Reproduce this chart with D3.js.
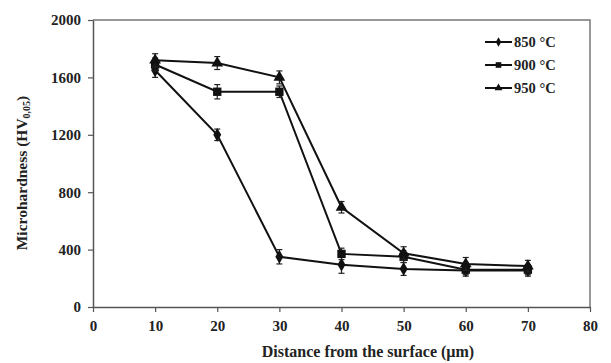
<!DOCTYPE html>
<html>
<head>
<meta charset="utf-8">
<script src="https://cdn.jsdelivr.net/npm/d3@7"></script>
<style>
  html, body { margin: 0; padding: 0; background: #fff; }
  svg { display: block; font-family: "Liberation Serif", "Times New Roman", serif; font-weight: bold; }
</style>
</head>
<body>
<svg id="chart" width="611" height="363"></svg>
<script>
// Depth positions (µm)
const distances = [10, 20, 30, 40, 50, 60, 70];
// Microhardness profiles for each treatment temperature
const hv850 = [1650, 1200, 350, 295, 265, 255, 255];
const hv900 = [1690, 1500, 1500, 370, 350, 260, 260];
const hv950 = [1720, 1700, 1600, 695, 375, 300, 285];
// Standard deviations (error bars)
const err850 = [50, 40, 50, 60, 45, 40, 40];
const err900 = [45, 50, 40, 40, 40, 35, 35];
const err950 = [45, 45, 45, 40, 45, 45, 40];
const seriesNames = ["850 °C", "900 °C", "950 °C"];
const xTicks = [0, 10, 20, 30, 40, 50, 60, 70, 80];
const yTicks = [0, 400, 800, 1200, 1600, 2000];

const series = [
  { name: seriesNames[0], values: hv850, errs: err850, symbol: d3.symbolDiamond, size: 55 },
  { name: seriesNames[1], values: hv900, errs: err900, symbol: d3.symbolSquare, size: 70 },
  { name: seriesNames[2], values: hv950, errs: err950, symbol: d3.symbolTriangle, size: 60 }
];

const svg = d3.select("#chart");
const plotL = 93, plotR = 590, plotT = 20, plotB = 307;
const serif = "'Liberation Serif', 'Times New Roman', serif";

const x = d3.scaleLinear().domain([0, 80]).range([plotL, plotR]);
const y = d3.scaleLinear().domain([0, 2000]).range([plotB, plotT]);

// Plot frame (top and right edges)
svg.append("path")
  .attr("d", `M${plotL},${plotT}H${plotR}V${plotB}`)
  .attr("fill", "none").attr("stroke", "#777").attr("stroke-width", 1.5);

// Axes
const xAxis = svg.append("g").attr("transform", `translate(0,${plotB})`)
  .call(d3.axisBottom(x).tickValues(xTicks).tickFormat(d3.format("d")).tickSize(5).tickSizeOuter(0));
const yAxis = svg.append("g").attr("transform", `translate(${plotL},0)`)
  .call(d3.axisLeft(y).tickValues(yTicks).tickFormat(d3.format("d")).tickSize(5).tickSizeOuter(0));

[xAxis, yAxis].forEach(g => {
  g.attr("font-family", serif).attr("font-size", 15);
  g.select(".domain").attr("stroke", "#555").attr("stroke-width", 1.5);
  g.selectAll(".tick line").attr("stroke", "#555").attr("stroke-width", 1.2);
  g.selectAll(".tick text").attr("font-weight", "bold").attr("fill", "#222");
});
xAxis.selectAll(".tick text").attr("dy", "1.05em");
yAxis.selectAll(".tick text").attr("x", -12);

// Axis titles
svg.append("text")
  .attr("x", 368).attr("y", 357)
  .attr("text-anchor", "middle").attr("font-size", 16).attr("fill", "#222")
  .text("Distance from the surface (µm)");

const yTitle = svg.append("text")
  .attr("transform", `translate(27,173) rotate(-90)`)
  .attr("text-anchor", "middle").attr("font-size", 15.5).attr("fill", "#222");
yTitle.append("tspan").text("Microhardness (HV");
yTitle.append("tspan").attr("font-size", 10).attr("dy", 3).text("0,05");
yTitle.append("tspan").attr("dy", -3).text(")");

const line = d3.line().x((d, i) => x(distances[i])).y(d => y(d));

series.forEach(s => {
  const g = svg.append("g");
  g.append("path").datum(s.values)
    .attr("d", line).attr("fill", "none")
    .attr("stroke", "#111").attr("stroke-width", 2);

  // Error bars
  const eb = g.selectAll(".eb").data(s.values).enter().append("g");
  eb.append("line")
    .attr("x1", (d, i) => x(distances[i])).attr("x2", (d, i) => x(distances[i]))
    .attr("y1", (d, i) => y(d + s.errs[i])).attr("y2", (d, i) => y(d - s.errs[i]))
    .attr("stroke", "#222").attr("stroke-width", 1.2);
  [1, -1].forEach(sign => {
    eb.append("line")
      .attr("x1", (d, i) => x(distances[i]) - 3).attr("x2", (d, i) => x(distances[i]) + 3)
      .attr("y1", (d, i) => y(d + sign * s.errs[i])).attr("y2", (d, i) => y(d + sign * s.errs[i]))
      .attr("stroke", "#222").attr("stroke-width", 1.2);
  });

  g.selectAll(".m").data(s.values).enter().append("path")
    .attr("transform", (d, i) => `translate(${x(distances[i])},${y(d)})`)
    .attr("d", d3.symbol().type(s.symbol).size(s.size))
    .attr("fill", "#111");
});

// Legend
const legend = svg.append("g");
series.forEach((s, i) => {
  const ly = 42 + i * 23;
  legend.append("line").attr("x1", 485).attr("x2", 512).attr("y1", ly).attr("y2", ly)
    .attr("stroke", "#111").attr("stroke-width", 2);
  legend.append("path").attr("transform", `translate(498.5,${ly})`)
    .attr("d", d3.symbol().type(s.symbol).size(s.size * 0.45)).attr("fill", "#111");
  legend.append("text").attr("x", 514).attr("y", ly + 5)
    .attr("font-size", 14.5).attr("fill", "#222").text(s.name);
});
</script>
</body>
</html>
